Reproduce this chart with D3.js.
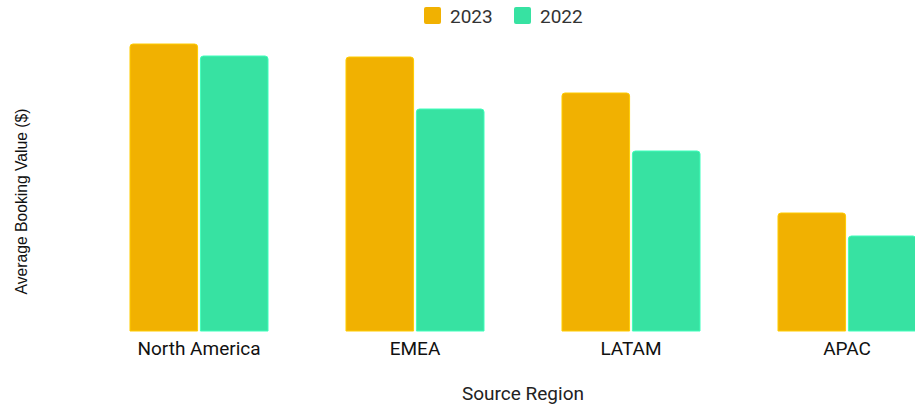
<!DOCTYPE html>
<html>
<head>
<meta charset="utf-8">
<script src="https://cdn.jsdelivr.net/npm/d3@7"></script>
<style>
  html, body { margin: 0; padding: 0; background: #fff; overflow: hidden; }
  svg { display: block; }
</style>
</head>
<body>
<svg id="chart" width="915" height="405"></svg>
<script>
// Average booking value by source region, two years side by side
const regions = ["North America", "EMEA", "LATAM", "APAC"];
const years = ["2023", "2022"];
const values2023 = [1435, 1370, 1190, 590];
const values2022 = [1375, 1110, 900, 475];
const yearColors = ["#f1b101", "#37e2a2"];

const rows = regions.map((r, i) => ({ region: r, "2023": values2023[i], "2022": values2022[i] }));

const svg = d3.select("#chart");
const baseline = 331;

const x0 = d3.scaleBand()
  .domain(regions)
  .range([91, 955])
  .paddingInner(0.361)
  .paddingOuter(0.1805);

const x1 = d3.scaleBand()
  .domain(years)
  .range([0, x0.bandwidth()])
  .paddingInner(0.04);

const y = d3.scaleLinear()
  .domain([0, 1500])
  .range([baseline, 31]);

const color = d3.scaleOrdinal().domain(years).range(yearColors);

// Bar with rounded top corners only
function topRoundedRect(x, yTop, w, h, r) {
  r = Math.min(r, w / 2, h);
  return `M${x},${yTop + h}V${yTop + r}Q${x},${yTop} ${x + r},${yTop}` +
         `H${x + w - r}Q${x + w},${yTop} ${x + w},${yTop + r}V${yTop + h}Z`;
}

const groups = svg.append("g")
  .selectAll("g")
  .data(rows)
  .join("g")
  .attr("transform", d => `translate(${x0(d.region)},0)`);

groups.selectAll("path")
  .data(d => years.map(k => ({ key: k, value: d[k] })))
  .join("path")
  .attr("d", d => topRoundedRect(x1(d.key), y(d.value), x1.bandwidth(), baseline - y(d.value), 3))
  .attr("fill", d => color(d.key))
  .attr("stroke", d => d3.color(color(d.key)).brighter(0.4))
  .attr("stroke-width", 1);

// Category labels
const xAxis = svg.append("g")
  .attr("transform", `translate(0,${baseline})`)
  .call(d3.axisBottom(x0).tickSize(0).tickPadding(11));
xAxis.select(".domain").remove();
xAxis.selectAll("text")
  .attr("font-family", "Roboto, sans-serif")
  .attr("font-size", 19)
  .attr("fill", "#111");

// Axis titles
svg.append("text")
  .attr("x", 523)
  .attr("y", 400)
  .attr("text-anchor", "middle")
  .attr("font-family", "Roboto, sans-serif")
  .attr("font-size", 19)
  .attr("fill", "#222")
  .text("Source Region");

svg.append("text")
  .attr("transform", "translate(27,201.5) rotate(-90)")
  .attr("text-anchor", "middle")
  .attr("font-family", "'Liberation Sans', Arial, sans-serif")
  .attr("font-size", 15.7)
  .attr("fill", "#111")
  .text("Average Booking Value ($)");

// Legend
const legend = svg.append("g");
const legendX = [424, 514];
years.forEach((k, i) => {
  legend.append("rect")
    .attr("x", legendX[i])
    .attr("y", 7)
    .attr("width", 17)
    .attr("height", 17)
    .attr("rx", 2)
    .attr("fill", color(k));
  legend.append("text")
    .attr("x", legendX[i] + 26)
    .attr("y", 22.5)
    .attr("font-family", "Roboto, sans-serif")
    .attr("font-size", 19)
    .attr("fill", "#333")
    .text(k);
});
</script>
</body>
</html>
